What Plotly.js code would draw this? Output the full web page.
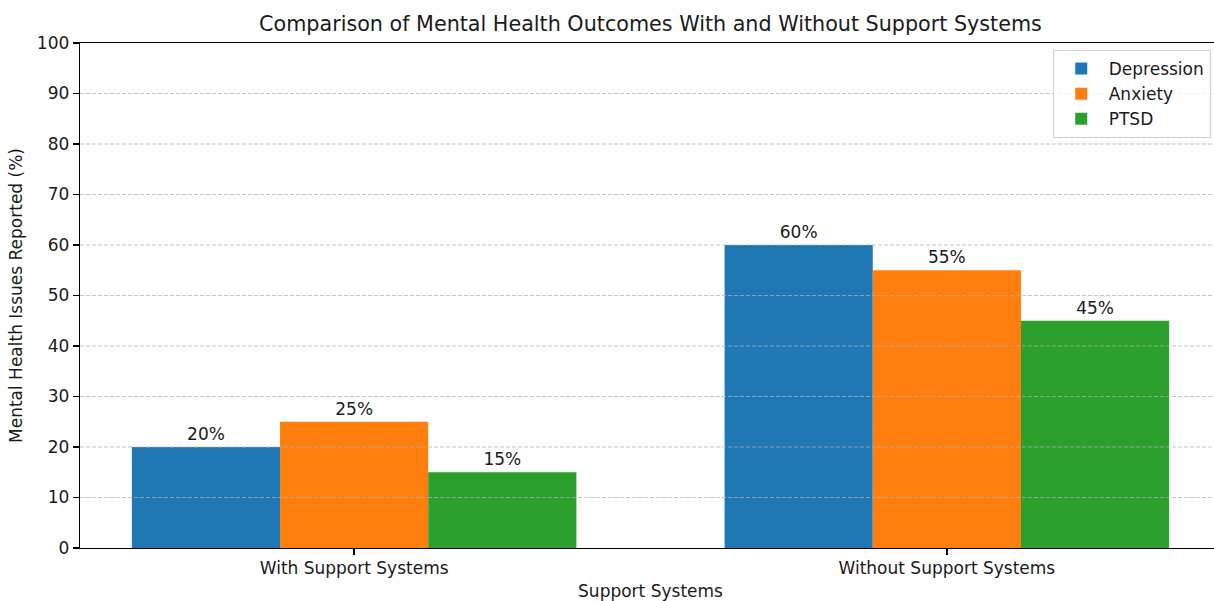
<!DOCTYPE html>
<html>
<head>
<meta charset="utf-8">
<script src="https://cdn.plot.ly/plotly-3.0.1.min.js"></script>
<style>html,body{margin:0;padding:0;background:#fff;overflow:hidden;}#chart{width:1221px;height:601px;}</style>
</head>
<body>
<div id="chart"></div>
<script>
const categories = ["With Support Systems", "Without Support Systems"];
const seriesNames = ["Depression", "Anxiety", "PTSD"];
const depression = [20, 60];
const anxiety = [25, 55];
const ptsd = [15, 45];
const yTicks = [0, 10, 20, 30, 40, 50, 60, 70, 80, 90, 100];
const colors = ["#1f77b4", "#ff7f0e", "#2ca02c"];

const seriesValues = [depression, anxiety, ptsd];
const font = "DejaVu Sans, sans-serif";
const txt = "#1a1a1a";

const traces = seriesValues.map((vals, i) => ({
  type: "bar",
  name: seriesNames[i],
  x: categories,
  y: vals,
  marker: {color: colors[i], line: {width: 0}},
  text: vals.map(v => v + "%"),
  textposition: "outside",
  textfont: {family: font, size: 17, color: txt},
  cliponaxis: false,
  hoverinfo: "x+y+name"
}));

const gridShapes = yTicks.filter(t => t > 0 && t < 100).map(t => ({
  type: "line", xref: "paper", x0: 0, x1: 1, yref: "y", y0: t, y1: t,
  layer: "above",
  line: {color: "rgba(176,176,176,0.75)", width: 1.1, dash: "4px,2px"}
}));

const layout = {
  width: 1221, height: 601,
  margin: {l: 80, r: 0, t: 43, b: 53},
  paper_bgcolor: "#fff", plot_bgcolor: "#fff",
  barmode: "group", bargap: 0.25, bargroupgap: 0,
  title: {text: "Comparison of Mental Health Outcomes With and Without Support Systems",
          font: {family: font, size: 20.7, color: txt}, xref: "paper", x: 0.5, xanchor: "center",
          yref: "container", y: 0.96, yanchor: "middle"},
  font: {family: font, size: 17, color: txt},
  xaxis: {
    type: "category", range: [-0.4625, 1.4625],
    showline: true, linecolor: "#000", linewidth: 1.3, mirror: true,
    ticks: "outside", ticklen: 6, tickwidth: 1.3, tickcolor: "#000",
    ticklabelstandoff: -2,
    showgrid: false, zeroline: false,
    tickfont: {family: font, size: 17, color: txt},
    title: {text: "Support Systems", font: {family: font, size: 17, color: txt}, standoff: 8}
  },
  yaxis: {
    range: [0, 100], tickvals: yTicks,
    showline: true, linecolor: "#000", linewidth: 1.3,
    ticks: "outside", ticklen: 6, tickwidth: 1.3, tickcolor: "#000",
    showgrid: false, zeroline: false,
    tickfont: {family: font, size: 17, color: txt},
    title: {text: "Mental Health Issues Reported (%)", font: {family: font, size: 17, color: txt}, standoff: 10}
  },
  legend: {
    x: 0.991, xanchor: "right", y: 0.986, yanchor: "top",
    bgcolor: "rgba(255,255,255,0.8)", bordercolor: "#d0d0d0", borderwidth: 1,
    font: {family: font, size: 17, color: txt},
    itemwidth: 45,
    tracegroupgap: 0
  },
  shapes: gridShapes,
  showlegend: true
};

Plotly.newPlot("chart", traces, layout, {displayModeBar: false, staticPlot: true});
</script>
</body>
</html>
